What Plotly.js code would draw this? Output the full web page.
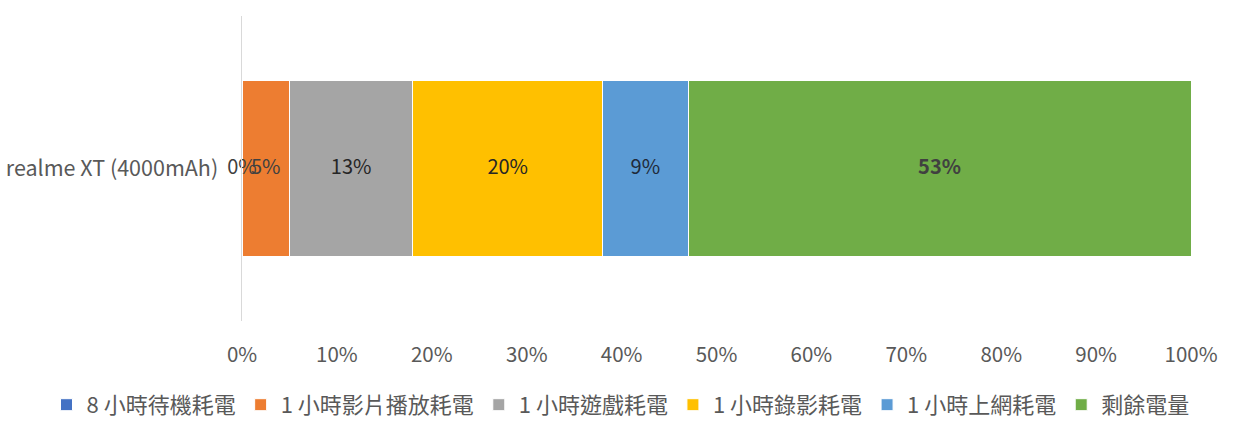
<!DOCTYPE html>
<html>
<head>
<meta charset="utf-8">
<script src="https://cdn.plot.ly/plotly-3.0.1.min.js"></script>
<style>html,body{margin:0;padding:0;background:#fff;}#chart{width:1235px;height:433px;}</style>
</head>
<body>
<div id="chart"></div>
<script>
// ---- data ----
const categories = ['realme XT (4000mAh)'];
const seriesNames = ['8 小時待機耗電', '1 小時影片播放耗電', '1 小時遊戲耗電', '1 小時錄影耗電', '1 小時上網耗電', '剩餘電量'];
const seriesValues = [0, 5, 13, 20, 9, 53];
const xTickValues = [0, 10, 20, 30, 40, 50, 60, 70, 80, 90, 100];
const xTickLabels = ['0%', '10%', '20%', '30%', '40%', '50%', '60%', '70%', '80%', '90%', '100%'];

// ---- styles ----
const seriesColors = ['#4472C4', '#ED7D31', '#A5A5A5', '#FFC000', '#5B9BD5', '#70AD47'];
const labelColors = ['#404040', '#404040', '#262626', '#262626', '#1f2a3a', '#404040'];
const boldLabelIndex = 5;
const FONT = '"Noto Sans CJK TC", "Noto Sans", sans-serif';

const traces = seriesNames.map((name, i) => ({
  type: 'bar',
  orientation: 'h',
  name: name,
  y: categories,
  x: [seriesValues[i]],
  marker: { color: seriesColors[i], line: { color: '#ffffff', width: 1 } },
  textposition: 'none',
  hoverinfo: 'none'
}));

// data labels at the middle of each stacked segment
let cum = 0;
const labelX = [], labelText = [];
seriesValues.forEach((v, i) => {
  labelX.push(cum + v / 2);
  cum += v;
  const t = v + '%';
  labelText.push(i === boldLabelIndex ? '<b>' + t + '</b>' : t);
});
traces.push({
  type: 'scatter',
  mode: 'text',
  x: labelX,
  y: labelX.map(() => categories[0]),
  text: labelText,
  textposition: 'middle center',
  textfont: { family: FONT, size: 20, color: labelColors },
  showlegend: false,
  hoverinfo: 'none',
  cliponaxis: false
});

const layout = {
  width: 1235,
  height: 433,
  margin: { l: 242, r: 44, t: 16, b: 112, autoexpand: false },
  paper_bgcolor: '#ffffff',
  plot_bgcolor: '#ffffff',
  barmode: 'stack',
  bargap: 0.42,
  showlegend: true,
  font: { family: FONT, color: '#595959', size: 20 },
  xaxis: {
    range: [0, 100],
    tickvals: xTickValues,
    ticktext: xTickLabels,
    showgrid: false,
    zeroline: false,
    showline: false,
    ticks: 'outside',
    ticklen: 15,
    tickcolor: 'rgba(0,0,0,0)',
    tickfont: { family: FONT, size: 20.5, color: '#595959' },
    fixedrange: true
  },
  yaxis: {
    showline: true,
    linecolor: '#d9d9d9',
    linewidth: 1.5,
    showgrid: false,
    zeroline: false,
    ticks: 'outside',
    ticklen: 18,
    tickcolor: 'rgba(0,0,0,0)',
    tickfont: { family: FONT, size: 21.5, color: '#595959' },
    fixedrange: true
  },
  legend: {
    orientation: 'h',
    x: -0.206,
    xanchor: 'left',
    y: -0.275,
    yanchor: 'middle',
    font: { family: FONT, size: 22, color: '#595959' },
    traceorder: 'normal',
    itemclick: false,
    itemdoubleclick: false
  }
};

Plotly.newPlot('chart', traces, layout, { displayModeBar: false, staticPlot: true });
</script>
</body>
</html>
